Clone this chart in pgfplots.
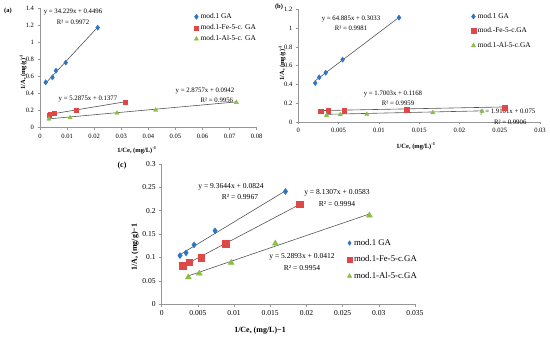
\documentclass[border=0pt]{standalone}
\usepackage{pgfplots}
\pgfplotsset{compat=1.18}
\usepackage{fontspec}
\setmainfont{Liberation Serif}
\definecolor{cblue}{RGB}{46,117,198}
\definecolor{cred}{RGB}{224,72,72}
\definecolor{cgreen}{RGB}{140,190,70}
\definecolor{axgray}{RGB}{150,150,150}
\definecolor{trend}{RGB}{85,85,85}
\pgfplotsset{
  exstyle/.style={
    scale only axis, axis lines=left,
    axis line style={-, draw=axgray, line width=0.6bp},
    tick style={draw=axgray, line width=0.5bp}, tick align=outside, major tick length=2.5bp,
    xmin=0, ymin=0, clip=false,
    /pgf/number format/assume math mode=true,
    scaled x ticks=false, scaled y ticks=false,
    xticklabel style={/pgf/number format/fixed, /pgf/number format/precision=3},
    yticklabel style={/pgf/number format/fixed, /pgf/number format/precision=3},
    legend cell align=left,
    legend image code/.code={\draw[mark repeat=2,mark phase=2,##1] plot coordinates {(0bp,0bp) (4bp,0bp) (8bp,0bp)};},
  },
  trendl/.style={draw=trend, line width=0.6bp, no marks, forget plot},
}
\begin{document}
\begin{tikzpicture}[x=1bp,y=1bp]
\useasboundingbox (0,0) rectangle (550,342);

% ---------------- (a)
\begin{axis}[exstyle, at={(40bp,214.3bp)}, anchor=south west,
  width=216.7bp, height=119.4bp, xmax=0.08, ymax=1.4,
  xtick={0,0.01,0.02,0.03,0.04,0.05,0.06,0.07,0.08},
  ytick={0,0.2,0.4,0.6,0.8,1,1.2,1.4},
  tick label style={font=\fontsize{6.6}{7}\selectfont},
  legend style={draw=none, fill=none, at={(0.711,0.975)}, anchor=north west,
    font=\fontsize{7.4}{8}\selectfont, row sep=0.5bp, inner sep=0pt}]
\addplot[trendl] coordinates {(0.0021,0.5215) (0.0213,1.1787)};
\addplot[trendl] coordinates {(0.0034,0.1557) (0.0315,0.3043)};
\addplot[trendl] coordinates {(0.0033,0.1037) (0.0725,0.3027)};
\addplot[only marks, mark=diamond*, color=cblue, mark size=2.6bp] coordinates {
 (0.0021,0.532) (0.0046,0.590) (0.0059,0.669) (0.0095,0.763) (0.0213,1.173)};
\addlegendentry{mod.1 GA}
\addplot[only marks, mark=square*, color=cred, mark size=1.9bp] coordinates {
 (0.0034,0.149) (0.0038,0.163) (0.0053,0.169) (0.0133,0.208) (0.0315,0.301)};
\addlegendentry{mod.1-Fe-5-c. GA}
\addplot[only marks, mark=triangle*, color=cgreen, mark size=2.5bp] coordinates {
 (0.0033,0.102) (0.0111,0.117) (0.0284,0.172) (0.0427,0.207) (0.0725,0.297)};
\addlegendentry{mod.1-Al-5-c. GA}
\begin{scope}[font=\fontsize{6.8}{7}\selectfont]
\node at (axis cs:0.0122,1.357) {y = 34.229x + 0.4496};
\node at (axis cs:0.0122,1.239) {R² = 0.9972};
\node at (axis cs:0.0177,0.337) {y = 5.2875x + 0.1377};
\node at (axis cs:0.0609,0.430) {y = 2.8757x + 0.0942};
\node at (axis cs:0.0653,0.324) {R² = 0.9956};
\end{scope}
\end{axis}

% ---------------- (b)
\begin{axis}[exstyle, at={(298.3bp,220bp)}, anchor=south west,
  width=241.7bp, height=112.7bp, xmax=0.03, ymax=1.2,
  xtick={0,0.005,0.01,0.015,0.02,0.025,0.03},
  ytick={0,0.2,0.4,0.6,0.8,1,1.2},
  tick label style={font=\fontsize{6.6}{7}\selectfont},
  legend style={draw=none, fill=none, at={(0.714,0.985)}, anchor=north west,
    font=\fontsize{7.4}{8}\selectfont, row sep=4bp, inner sep=0pt}]
\addplot[trendl] coordinates {(0.0021,0.4396) (0.0125,1.1144)};
\addplot[trendl] coordinates {(0.0028,0.1216) (0.0256,0.1603)};
\addplot[trendl] coordinates {(0.0035,0.0817) (0.0228,0.1186)};
\addplot[only marks, mark=diamond*, color=cblue, mark size=2.6bp] coordinates {
 (0.0021,0.415) (0.0026,0.476) (0.0034,0.525) (0.0055,0.664) (0.0125,1.111)};
\addlegendentry{mod.1 GA}
\addplot[only marks, mark=square*, color=cred, mark size=2.4bp] coordinates {
 (0.0028,0.114) (0.0037,0.121) (0.0057,0.124) (0.0135,0.131) (0.0256,0.156)};
\addlegendentry{mod.-Fe-5-c.GA}
\addplot[only marks, mark=triangle*, color=cgreen, mark size=2.5bp] coordinates {
 (0.0035,0.071) (0.0052,0.078) (0.0085,0.082) (0.0167,0.099) (0.0228,0.114)};
\addlegendentry{mod.1-Al-5-c.GA}
\begin{scope}[font=\fontsize{6.8}{7}\selectfont]
\node at (axis cs:0.00654,1.097) {y = 64.885x + 0.3033};
\node at (axis cs:0.00654,1.001) {R² = 0.9981};
\node at (axis cs:0.01175,0.298) {y = 1.7003x + 0.1168};
\node at (axis cs:0.01237,0.202) {R² = 0.9959};
\node at (axis cs:0.0260,0.107) {y = 1.9101x + 0.075};
\node at (axis cs:0.0263,-0.005) {R² = 0.9906};
\end{scope}
\end{axis}

% ---------------- (c)
\begin{axis}[exstyle, at={(161.7bp,37.7bp)}, anchor=south west,
  width=253.3bp, height=140.4bp, xmax=0.035, ymax=0.3,
  xtick={0,0.005,0.01,0.015,0.02,0.025,0.03,0.035},
  ytick={0,0.05,0.1,0.15,0.2,0.25,0.3},
  tick label style={font=\fontsize{7.6}{8}\selectfont},
  legend image post style={mark options={scale=0.75}},
  legend style={draw=none, fill=none, at={(0.731,0.479)}, anchor=north west,
    font=\fontsize{8.8}{9}\selectfont, row sep=5bp, inner sep=0pt}]
\addplot[trendl] coordinates {(0.00253,0.1061) (0.0171,0.2425)};
\addplot[trendl] coordinates {(0.00286,0.0816) (0.0191,0.2136)};
\addplot[trendl] coordinates {(0.00368,0.0607) (0.0287,0.1930)};
\addplot[only marks, mark=diamond*, color=cblue, mark size=3bp] coordinates {
 (0.00253,0.104) (0.00336,0.110) (0.00447,0.127) (0.00737,0.157) (0.0171,0.241)};
\addlegendentry{mod.1 GA}
\addplot[only marks, mark=square*, color=cred, mark size=3.3bp] coordinates {
 (0.00286,0.0826) (0.00382,0.0897) (0.00543,0.0997) (0.00884,0.130) (0.0191,0.2137)};
\addlegendentry{mod.1-Fe-5-c.GA}
\addplot[only marks, mark=triangle*, color=cgreen, mark size=3.4bp] coordinates {
 (0.00368,0.058) (0.0052,0.066) (0.0096,0.089) (0.0157,0.130) (0.0287,0.190)};
\addlegendentry{mod.1-Al-5-c.GA}
\begin{scope}[font=\fontsize{7.6}{8}\selectfont]
\node at (axis cs:0.00958,0.2506) {y = 9.3644x + 0.0824};
\node at (axis cs:0.01082,0.2293) {R² = 0.9967};
\node at (axis cs:0.02422,0.2378) {y = 8.1307x + 0.0583};
\node at (axis cs:0.02422,0.2143) {R² = 0.9994};
\node at (axis cs:0.01939,0.1011) {y = 5.2893x + 0.0412};
\node at (axis cs:0.01939,0.0776) {R² = 0.9954};
\end{scope}
\end{axis}

% ---------------- labels
\begin{scope}[font=\bfseries\fontsize{6.5}{7}\selectfont]
\node at (8,331) {(a)};
\node at (279,335) {(b)};
\node at (137,192) {1/Ce, (mg/L)\textsuperscript{-1}};
\node[rotate=90] at (23,270) {1/A, (mg/g)\textsuperscript{-1}};
\node at (416,196) {1/Ce, (mg/L)\textsuperscript{-1}};
\node[rotate=90] at (282,279) {1/A, (mg/g)\textsuperscript{-1}};
\end{scope}
\begin{scope}[font=\bfseries\fontsize{8}{9}\selectfont]
\node at (122,176) {(c)};
\node at (260,11) {1/Ce, (mg/L)−1};
\node[rotate=90] at (135,95) {1/A, (mg/g)−1};
\end{scope}
\end{tikzpicture}
\end{document}
